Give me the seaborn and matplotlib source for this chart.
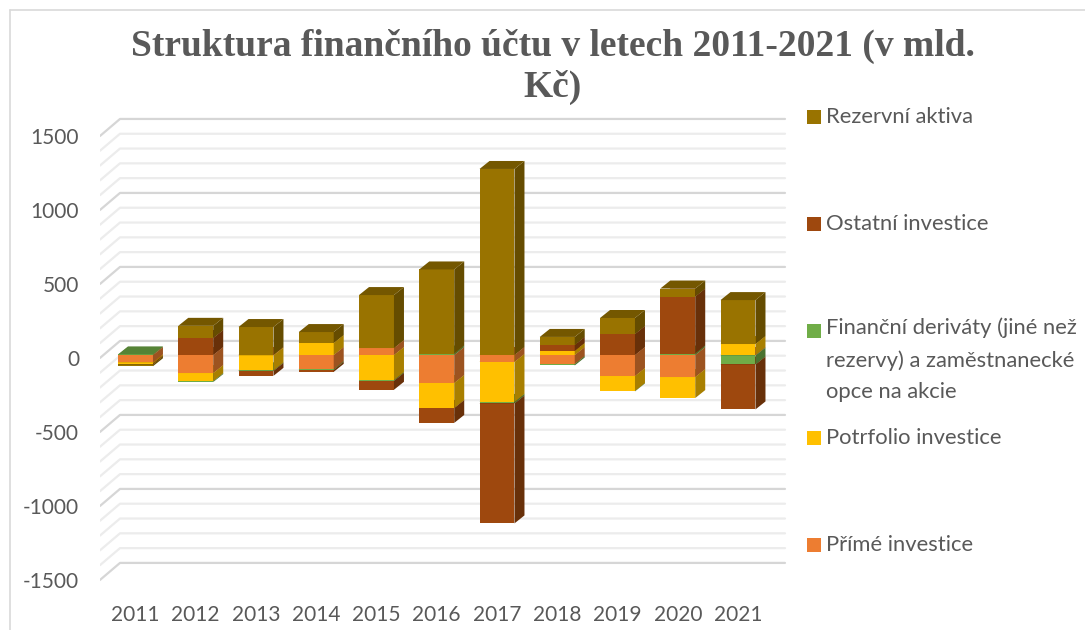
import numpy as np
import pandas as pd
import seaborn as sns
import matplotlib.pyplot as plt
from matplotlib.patches import Polygon, Rectangle
from matplotlib.lines import Line2D
from matplotlib.colors import to_rgb

# Data (v mld. Kč)
years = ['2011', '2012', '2013', '2014', '2015', '2016', '2017', '2018', '2019', '2020', '2021']
prime = [-50, -122, -3, -95, 47, -189, -47, -61, -142, -149, -3]
portfolio = [-8, -54, -101, 81, -169, -169, -270, 27, -101, -142, 74]
derivaty = [4, -7, -3, -5, -5, 10, -10, -10, -3, 10, -61]
ostatni = [-6, 115, -34, -14, -61, -101, -811, 41, 142, 385, -304]
rezervni = [-12, 82, 189, 74, 358, 568, 1257, 54, 108, 54, 297]

series = ['Přímé investice', 'Potrfolio investice',
          'Finanční deriváty (jiné než\nrezervy) a zaměstnanecké\nopce na akcie',
          'Ostatní investice', 'Rezervní aktiva']
colors = ['#ED7D31', '#FFC000', '#70AD47', '#9E480E', '#997300']

df = pd.DataFrame({'Rok': years, series[0]: prime, series[1]: portfolio,
                   series[2]: derivaty, series[3]: ostatni, series[4]: rezervni})

sns.set_theme(style='white')
plt.rcParams['font.family'] = ['Lato', 'DejaVu Sans']
grey = '#595959'

fig = plt.figure(figsize=(10.85, 6.3), dpi=100)
ax = fig.add_axes([100 / 1085, 40 / 630, 690 / 1085, 490 / 630])

W = 0.58     # sirka sloupce
DX = 0.166   # hloubka (x)
DY = 54      # hloubka (y, v jednotkach osy)

pos = np.zeros(len(years))
neg = np.zeros(len(years))
for name, col in zip(series, colors):
    vals = df[name].to_numpy(dtype=float)
    bottoms = np.where(vals >= 0, pos, neg)
    sns.barplot(x=df['Rok'], y=vals, bottom=bottoms, color=col, width=W,
                saturation=1, linewidth=0, ax=ax)
    rgb = np.array(to_rgb(col))
    for i, patch in enumerate(ax.containers[-1]):
        lo = min(bottoms[i], bottoms[i] + vals[i])
        hi = max(bottoms[i], bottoms[i] + vals[i])
        z = 5 + lo / 5000
        patch.set_zorder(z)
        xl, xr = i - W / 2, i + W / 2
        side = Polygon([(xr, lo), (xr + DX, lo + DY), (xr + DX, hi + DY), (xr, hi)],
                       closed=True, facecolor=rgb * 0.66, edgecolor='none', zorder=z)
        top = Polygon([(xl, hi), (xl + DX, hi + DY), (xr + DX, hi + DY), (xr, hi)],
                      closed=True, facecolor=rgb * 0.76, edgecolor='none', zorder=z)
        ax.add_patch(side)
        ax.add_patch(top)
    pos = np.where(vals >= 0, pos + vals, pos)
    neg = np.where(vals < 0, neg + vals, neg)

# mrizka na zadni stene a leve stene
x_front, x_back, x_end = -0.589, -0.257, 10.78
for t in range(-1500, 1501, 100):
    c = '#d6d6d6' if t % 500 == 0 else '#ececec'
    ax.plot([x_front, x_back, x_end], [t - 20, t + 95, t + 95], color=c, lw=1.6, zorder=1)

ax.set_xlim(-0.589, 10.863)
ax.set_ylim(-1588, 1723)
ticks = np.arange(-1500, 1501, 500)
ax.set_yticks(ticks - 20, labels=[str(t) for t in ticks])
ax.tick_params(axis='y', length=0, pad=15, labelsize=15, labelcolor=grey)
ax.tick_params(axis='x', length=0, pad=11, labelsize=15, labelcolor=grey)
ax.set_xlabel('')
ax.set_ylabel('')
for s in ax.spines.values():
    s.set_visible(False)

# okraj grafu
fig.add_artist(Line2D([10 / 1085, 10 / 1085], [0, 1 - 10 / 630], color='#d9d9d9', lw=1.2))
fig.add_artist(Line2D([10 / 1085, 1], [1 - 10 / 630, 1 - 10 / 630], color='#d9d9d9', lw=1.2))

# titulek
fig.text(553 / 1085, 1 - 46 / 630, 'Struktura finančního účtu v letech 2011-2021 (v mld.',
         ha='center', va='center', fontsize=27, fontweight='bold',
         family='Liberation Serif', color=grey)
fig.text(553 / 1085, 1 - 87 / 630, 'Kč)', ha='center', va='center', fontsize=27,
         fontweight='bold', family='Liberation Serif', color=grey)

# legenda
leg_y = [545, 438, 360, 224, 117]
for name, col, yy in zip(series, colors, leg_y):
    if '\n' in name:
        my = 331
    else:
        my = yy
    fig.add_artist(Rectangle((807 / 1085, 1 - (my + 7) / 630), 14 / 1085, 14 / 630,
                             transform=fig.transFigure, facecolor=col, edgecolor='none'))
    fig.text(826 / 1085, 1 - yy / 630, name, ha='left', va='center', fontsize=15.8,
             color=grey, linespacing=1.72)

fig.savefig('out.png', dpi=100)
